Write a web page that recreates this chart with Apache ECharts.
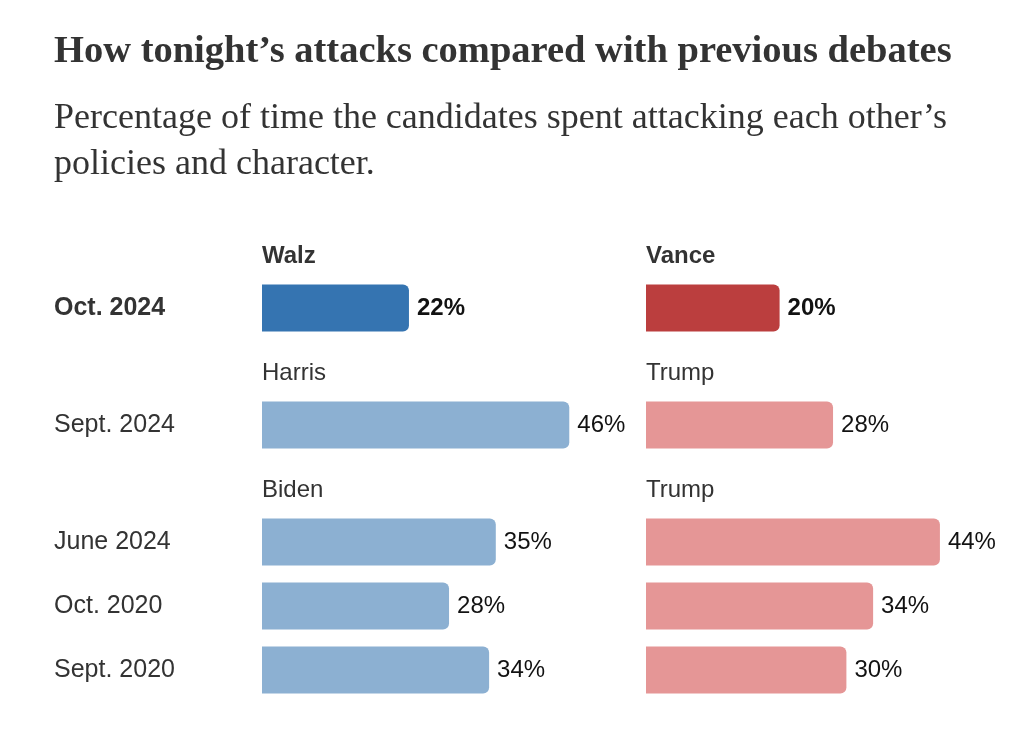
<!DOCTYPE html>
<html>
<head>
<meta charset="utf-8">
<script src="https://cdn.jsdelivr.net/npm/echarts@6/dist/echarts.min.js"></script>
<style>
html,body{margin:0;padding:0;background:#fff;}
#chart{width:1020px;height:736px;}
</style>
</head>
<body>
<div id="chart"></div>
<script>
// ---- data ----
const debates = ['Oct. 2024', 'Sept. 2024', 'June 2024', 'Oct. 2020', 'Sept. 2020'];
const demPct = [22, 46, 35, 28, 34];
const repPct = [20, 28, 44, 34, 30];
const demNames = ['Walz', 'Harris', 'Biden'];
const repNames = ['Vance', 'Trump', 'Trump'];
const blocks = [[0], [1], [2, 3, 4]]; // which debates belong under each candidate header

// ---- layout / style ----
const SANS = '"Liberation Sans", Arial, sans-serif';
const SERIF = '"Liberation Serif", "DejaVu Serif", serif';
const ROW = 64, BAR = 47;
const blockTops = [276, 393, 510];
const sides = [
  {left: 262, names: demNames, values: demPct, colors: ['#3574b1', '#8cb0d2']},
  {left: 646, names: repNames, values: repPct, colors: ['#bb3e3e', '#e59696']}
];
const WIDTH = 334, XMAX = 50;

const grid = [], xAxis = [], yAxis = [], series = [];
sides.forEach((side, s) => {
  blocks.forEach((idx, b) => {
    const gi = grid.length;
    const first = b === 0;
    grid.push({left: side.left, top: blockTops[b], width: WIDTH, height: ROW * idx.length});
    xAxis.push({
      type: 'value', gridIndex: gi, min: 0, max: XMAX, position: 'top',
      axisLine: {show: false}, axisTick: {show: false}, axisLabel: {show: false}, splitLine: {show: false},
      name: side.names[b], nameLocation: 'start', nameGap: 0,
      nameTextStyle: {
        align: 'left', verticalAlign: 'bottom', padding: [0, 0, 8, 0],
        fontFamily: SANS, fontSize: 24, color: '#333', fontWeight: first ? 'bold' : 'normal'
      }
    });
    yAxis.push({
      type: 'category', gridIndex: gi, inverse: true,
      data: idx.map(i => debates[i]),
      axisLine: {show: false}, axisTick: {show: false}, splitLine: {show: false},
      axisLabel: {
        show: s === 0, align: 'left', margin: side.left - 54,
        fontFamily: SANS, fontSize: 25, color: '#333', fontWeight: first ? 'bold' : 'normal'
      }
    });
    series.push({
      type: 'bar', xAxisIndex: gi, yAxisIndex: gi,
      data: idx.map(i => side.values[i]),
      barWidth: BAR,
      itemStyle: {color: first ? side.colors[0] : side.colors[1], borderRadius: [0, 6, 6, 0]},
      label: {
        show: true, position: 'right', distance: 8, formatter: '{c}%',
        fontFamily: SANS, fontSize: 24, color: '#121212', fontWeight: first ? 'bold' : 'normal'
      },
      silent: true, animation: false
    });
  });
});

const chart = echarts.init(document.getElementById('chart'), null, {renderer: 'canvas'});
chart.setOption({
  backgroundColor: '#fff',
  animation: false,
  title: [
    {
      text: 'How tonight\u2019s attacks compared with previous debates',
      left: 54, top: 30, padding: 0,
      textStyle: {fontFamily: SERIF, fontSize: 38.5, fontWeight: 'bold', color: '#333', lineHeight: 44}
    },
    {
      text: 'Percentage of time the candidates spent attacking each other\u2019s\npolicies and character.',
      left: 54, top: 96, padding: 0,
      textStyle: {fontFamily: SERIF, fontSize: 36, fontWeight: 'normal', color: '#333', lineHeight: 46}
    }
  ],
  grid, xAxis, yAxis, series
});
</script>
</body>
</html>
